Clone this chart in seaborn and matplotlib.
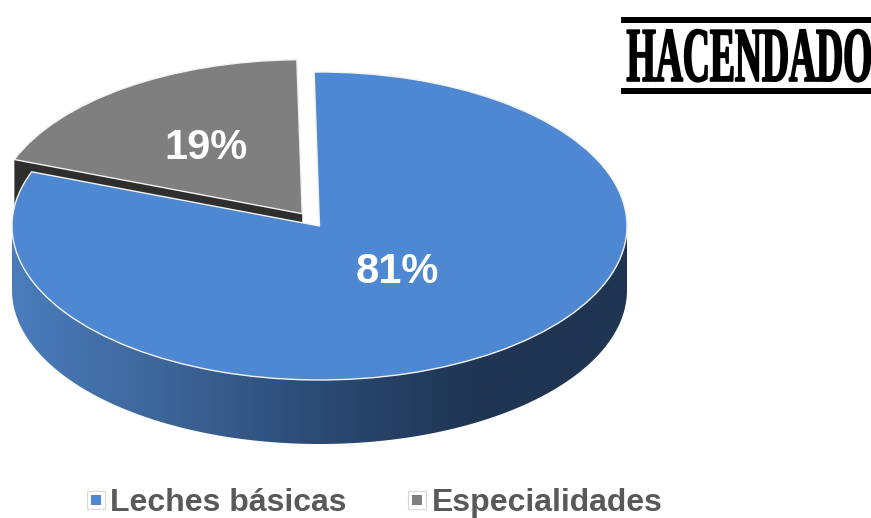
import numpy as np
import matplotlib
matplotlib.use('Agg')
import matplotlib.pyplot as plt
import matplotlib.patheffects as pe
from matplotlib.colors import to_rgb
from matplotlib.lines import Line2D
from matplotlib.patches import Polygon, Rectangle
from matplotlib.transforms import Affine2D
import seaborn as sns

# data
labels = ['Leches básicas', 'Especialidades']
shares = [81, 19]
brand = 'HACENDADO'

# colours
colors = ['#4f88d2', '#7f7f7f']
gray_side = '#2e2e2e'
blue_side = ['#4a7cbc', '#3d6598', '#2b4a74', '#1f3552', '#1f3552']

sns.set_theme(style='white')
plt.rcParams['font.family'] = ['Liberation Sans', 'DejaVu Sans']

W, H = 871, 518
cx, cy, rx, ry = 319.5, 226, 307.5, 154  # pie ellipse in pixels
depth = 64 / ry
start = 91
explode = 0.0975

fig = plt.figure(figsize=(W / 100, H / 100), dpi=100, facecolor='white')
ax = fig.add_axes([0, 0, 1, 1])

wedges, texts, pcts = ax.pie(shares, colors=colors, startangle=start, counterclock=False,
                             explode=[0, explode], autopct='%.0f%%', pctdistance=0.55,
                             wedgeprops={'edgecolor': '#f2f2f2', 'linewidth': 1})

wedges[1].set_zorder(2)
wedges[0].set_zorder(4)

# cut face of the gray slice, mostly hidden by the blue one
mid = np.deg2rad(wedges[1].theta1 + wedges[1].theta2) / 2
ox, oy = explode * np.cos(mid), explode * np.sin(mid)
rim = np.deg2rad(wedges[1].theta2)
px = [ox, ox + np.cos(rim)]
py = [oy, oy + np.sin(rim)]
ax.fill(px + px[::-1], py + [py[1] - depth, py[0] - depth], color=gray_side, lw=0, zorder=1.5)

# front wall of the blue slice, shaded left to right
theta = np.linspace(np.pi, 2 * np.pi, 300)
wall = np.vstack([np.c_[np.cos(theta), np.sin(theta)],
                  np.c_[np.cos(theta[::-1]), np.sin(theta[::-1]) - depth]])
ramp = np.array([to_rgb(c) for c in sns.blend_palette(blue_side, 400)])[None, :, :]
img = ax.imshow(ramp, extent=(-1, 1, -1 - depth, 0), aspect='auto', zorder=3, interpolation='bilinear')
img.set_clip_path(Polygon(wall, transform=ax.transData))

# squash the circle to the tilted ellipse
ax.set_aspect('auto')
ax.set_xlim(-cx / rx, (W - cx) / rx)
ax.set_ylim((cy - H) / ry, cy / ry)
ax.axis('off')

for t in pcts:
    t.set(color='white', fontweight='bold', fontsize=30, zorder=5)
pcts[0].set_position(((397 - cx) / rx, (cy - 272) / ry))
pcts[1].set_position(((205.5 - cx) / rx, (cy - 148) / ry))


# stretch the brand name, its type is very condensed
class Stretch(pe.AbstractPathEffect):
    def __init__(self, y0, k, stroke):
        super().__init__()
        self.y0, self.k, self.stroke = y0, k, stroke

    def draw_path(self, renderer, gc, tpath, affine, rgbFace=None):
        a = affine + Affine2D().translate(0, -self.y0).scale(1, self.k).translate(0, self.y0)
        gc0 = renderer.new_gc()
        gc0.copy_properties(gc)
        gc0.set_linewidth(self.stroke)
        gc0.set_foreground('black')
        renderer.draw_path(gc0, tpath, a, rgbFace)
        gc0.restore()


brand_txt = fig.text(749.5 / W, 1 - 81 / H, brand, ha='center', va='baseline', color='black',
                     fontsize=27, fontweight='bold', family='Liberation Serif')
brand_txt.set_path_effects([Stretch(H - 81, 2.07, 1.2)])
for top in (17, 88):
    fig.add_artist(Rectangle((621 / W, 1 - (top + 5.5) / H), 250 / W, 5.5 / H,
                             transform=fig.transFigure, color='black', lw=0))

# legend, small square inside a pale box
handles = [(Line2D([], [], ls='', marker='s', ms=12.6, mfc='white', mec='#d9d9d9', mew=0.8),
            Line2D([], [], ls='', marker='s', ms=7.5, mfc=c, mew=0)) for c in colors]
fig.legend(handles, labels, loc='center left', bbox_to_anchor=(88 / W, 1 - 503 / H), ncol=2, frameon=False,
           prop={'weight': 'bold', 'size': 23}, labelcolor='#595959', handlelength=0.5,
           handletextpad=0.2, columnspacing=1.95, borderpad=0, borderaxespad=0)

fig.savefig('out.png', dpi=100)
